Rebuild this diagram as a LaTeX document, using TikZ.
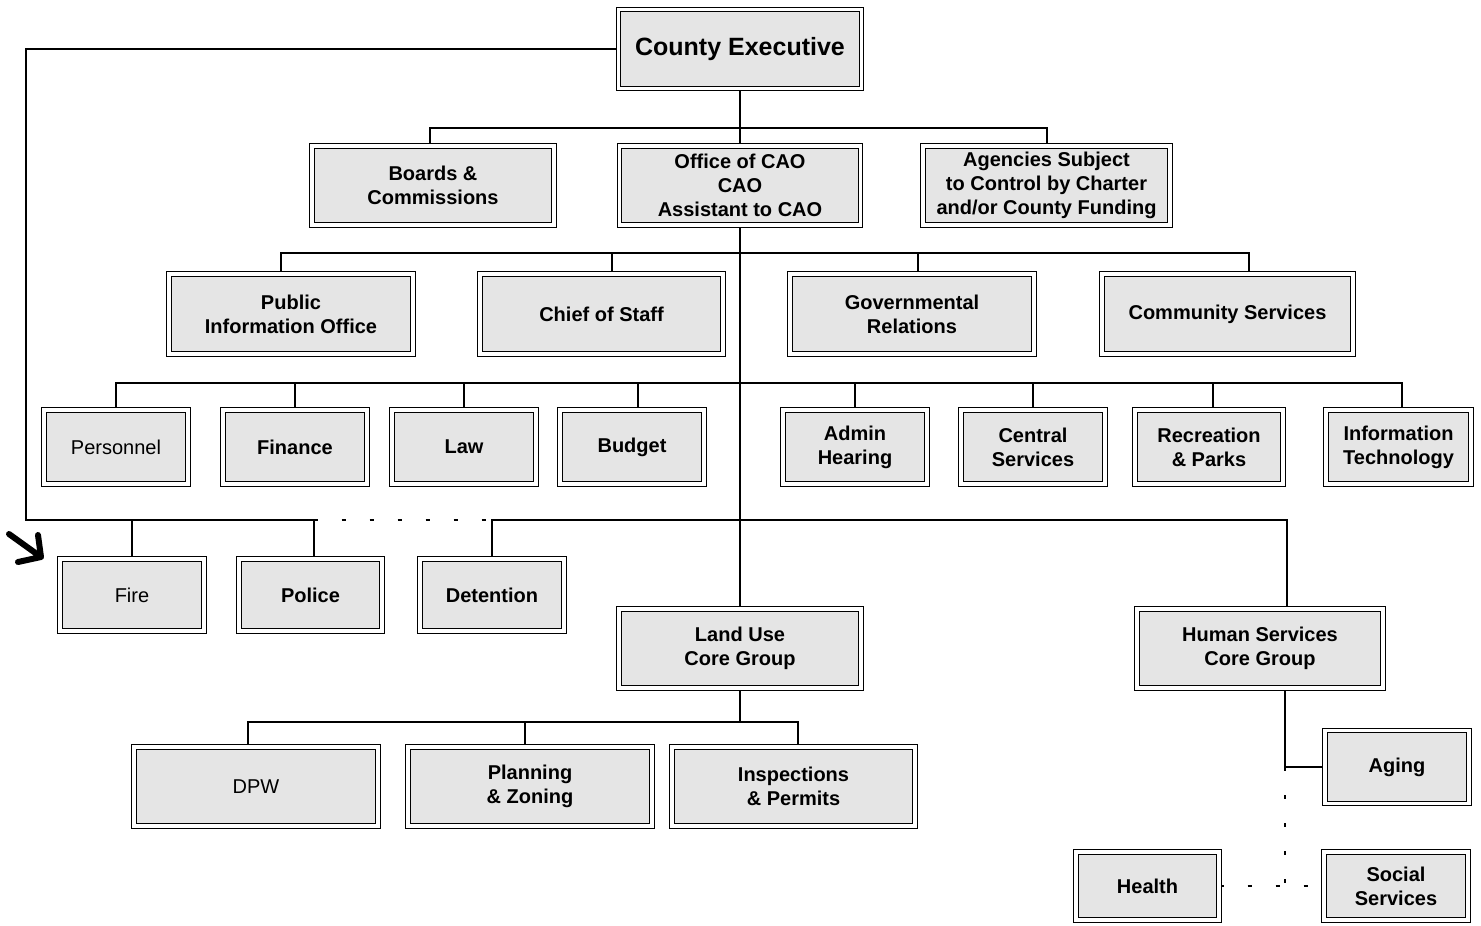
\documentclass[tikz,border=0pt]{standalone}
\usepackage{fontspec}
\setmainfont{Liberation Sans}
\usetikzlibrary{backgrounds}
\begin{document}
\begin{tikzpicture}[x=1pt,y=-1pt,
  unit/.style={draw=black, line width=1.3pt, double=white, double distance=3.2pt,
    fill=black!10, inner sep=0pt, align=center,
    font=\fontsize{20}{24}\selectfont\bfseries},
  plain/.style={font=\fontsize{20}{24}\selectfont},
  wh/.style 2 args={minimum width=#1pt, minimum height=#2pt},
  conn/.style={line width=2pt, black},
  dots/.style={line width=2pt, black, dash pattern=on 4pt off 24pt}]
\useasboundingbox (0,0) rectangle (1481,926);

% --- top levels ---
\node[unit, wh={243}{79}, font=\fontsize{25}{30}\selectfont\bfseries] (ce) at (740,49) {County Executive};
\node[unit, wh={242}{79}] (boards) at (433,185.5) {Boards \&\\Commissions};
\node[unit, wh={241}{79}] (cao) at (740,185.5) {Office of CAO\\CAO\\Assistant to CAO};
\node[unit, wh={247}{79}] (agencies) at (1046.5,185.5) {Agencies Subject\\to Control by Charter\\and/or County Funding};

% --- offices under the CAO ---
\node[unit, wh={244}{80}] (pio) at (291,314) {Public\\Information Office};
\node[unit, wh={243}{80}] (chief) at (601.5,314) {Chief of Staff};
\node[unit, wh={244}{80}] (gov) at (912,314) {Governmental\\Relations};
\node[unit, wh={251}{80}] (comm) at (1227.5,314) {Community Services};

% --- departments ---
\node[unit, plain, wh={144}{74}] (personnel) at (116,447) {Personnel};
\node[unit, wh={144}{74}] (finance) at (295,447) {Finance};
\node[unit, wh={144}{74}] (law) at (464,447) {Law};
\node[unit, wh={144}{74}] (budget) at (632,447) {Budget};
\node[unit, wh={144}{74}] (admin) at (855,447) {Admin\\Hearing};
\node[unit, wh={144}{74}] (central) at (1033,447) {Central\\Services};
\node[unit, wh={148}{74}] (rec) at (1209,447) {Recreation\\\& Parks};
\node[unit, wh={145}{74}] (it) at (1398.5,447) {Information\\Technology};

% --- public safety ---
\node[unit, plain, wh={144}{72}] (fire) at (132,595) {Fire};
\node[unit, wh={143}{72}] (police) at (310.5,595) {Police};
\node[unit, wh={144}{72}] (detention) at (492,595) {Detention};

% --- core groups ---
\node[unit, wh={242}{79}] (landuse) at (740,648.5) {Land Use\\Core Group};
\node[unit, wh={246}{79}] (hs) at (1260,648.5) {Human Services\\Core Group};

\node[unit, plain, wh={244}{79}] (dpw) at (256,786.5) {DPW};
\node[unit, wh={244}{79}] (planning) at (530,786.5) {Planning\\\& Zoning};
\node[unit, wh={243}{79}] (insp) at (793.5,786.5) {Inspections\\\& Permits};

\node[unit, wh={144}{73}] (aging) at (1397,767) {Aging};
\node[unit, wh={143}{68}] (health) at (1147.5,886) {Health};
\node[unit, wh={144}{68}] (social) at (1396,886) {Social\\Services};

% --- bus levels and drop points ---
\coordinate (b1) at (0,128);
\coordinate (b2) at (0,253);
\coordinate (b3) at (0,383);
\coordinate (b4) at (26,520);
\coordinate (b5) at (0,722);

\coordinate (boardsT) at ([xshift=-3]boards.north);
\coordinate (pioT) at ([xshift=-10]pio.north);
\coordinate (chiefT) at ([xshift=10]chief.north);
\coordinate (govT) at ([xshift=6]gov.north);
\coordinate (commT) at ([xshift=21]comm.north);
\coordinate (budgetT) at ([xshift=6]budget.north);
\coordinate (recT) at ([xshift=4]rec.north);
\coordinate (itT) at ([xshift=3]it.north);
\coordinate (policeT) at ([xshift=3]police.north);
\coordinate (hsT) at ([xshift=27]hs.north);
\coordinate (hsB) at ([xshift=25]hs.south);
\coordinate (dpwT) at ([xshift=-8]dpw.north);
\coordinate (planT) at ([xshift=-5]planning.north);
\coordinate (inspT) at ([xshift=4.5]insp.north);

\begin{pgfonlayer}{background}
  % County Executive to its direct reports
  \draw[conn] (ce) -- (cao);
  \draw[conn] (boardsT) |- (agencies.north |- b1) -- (agencies.north);

  % CAO offices
  \draw[conn] (pioT) |- (commT |- b2) -- (commT);
  \draw[conn] (chiefT) -- (chiefT |- b2);
  \draw[conn] (govT) -- (govT |- b2);

  % departments
  \draw[conn] (personnel.north) |- (itT |- b3) -- (itT);
  \foreach \n in {finance,law,admin,central}
    \draw[conn] (\n.north) -- (\n.north |- b3);
  \draw[conn] (budgetT) -- (budgetT |- b3);
  \draw[conn] (recT) -- (recT |- b3);

  % public safety line from the County Executive
  \draw[conn] (ce.west) -| (b4) -- (policeT |- b4);
  \draw[conn] (fire.north) -- (fire.north |- b4);
  \draw[conn] (policeT) -- (policeT |- b4);
  \draw[dots] (policeT |- b4) -- (detention.north |- b4);
  \draw[conn] (detention.north) |- (hsT |- b4) -- (hsT);

  % trunk down to Land Use
  \draw[conn] (cao) -- (landuse);

  % Land Use departments
  \draw[conn] (landuse) -- (landuse |- b5);
  \draw[conn] (dpwT) |- (inspT |- b5) -- (inspT);
  \draw[conn] (planT) -- (planT |- b5);

  % Human Services departments
  \draw[conn] (hsB) |- (aging.west);
  \draw[dots] (hsB |- aging.west) -- (hsB |- health.east);
  \draw[dots] (health.east) -- (social.west);
\end{pgfonlayer}

% hand-drawn pointer at Fire
\draw[line width=6pt, line cap=round, line join=round]
  (9,534) -- (41,557) (38,535) -- (41,557) -- (18,562);
\end{tikzpicture}
\end{document}
